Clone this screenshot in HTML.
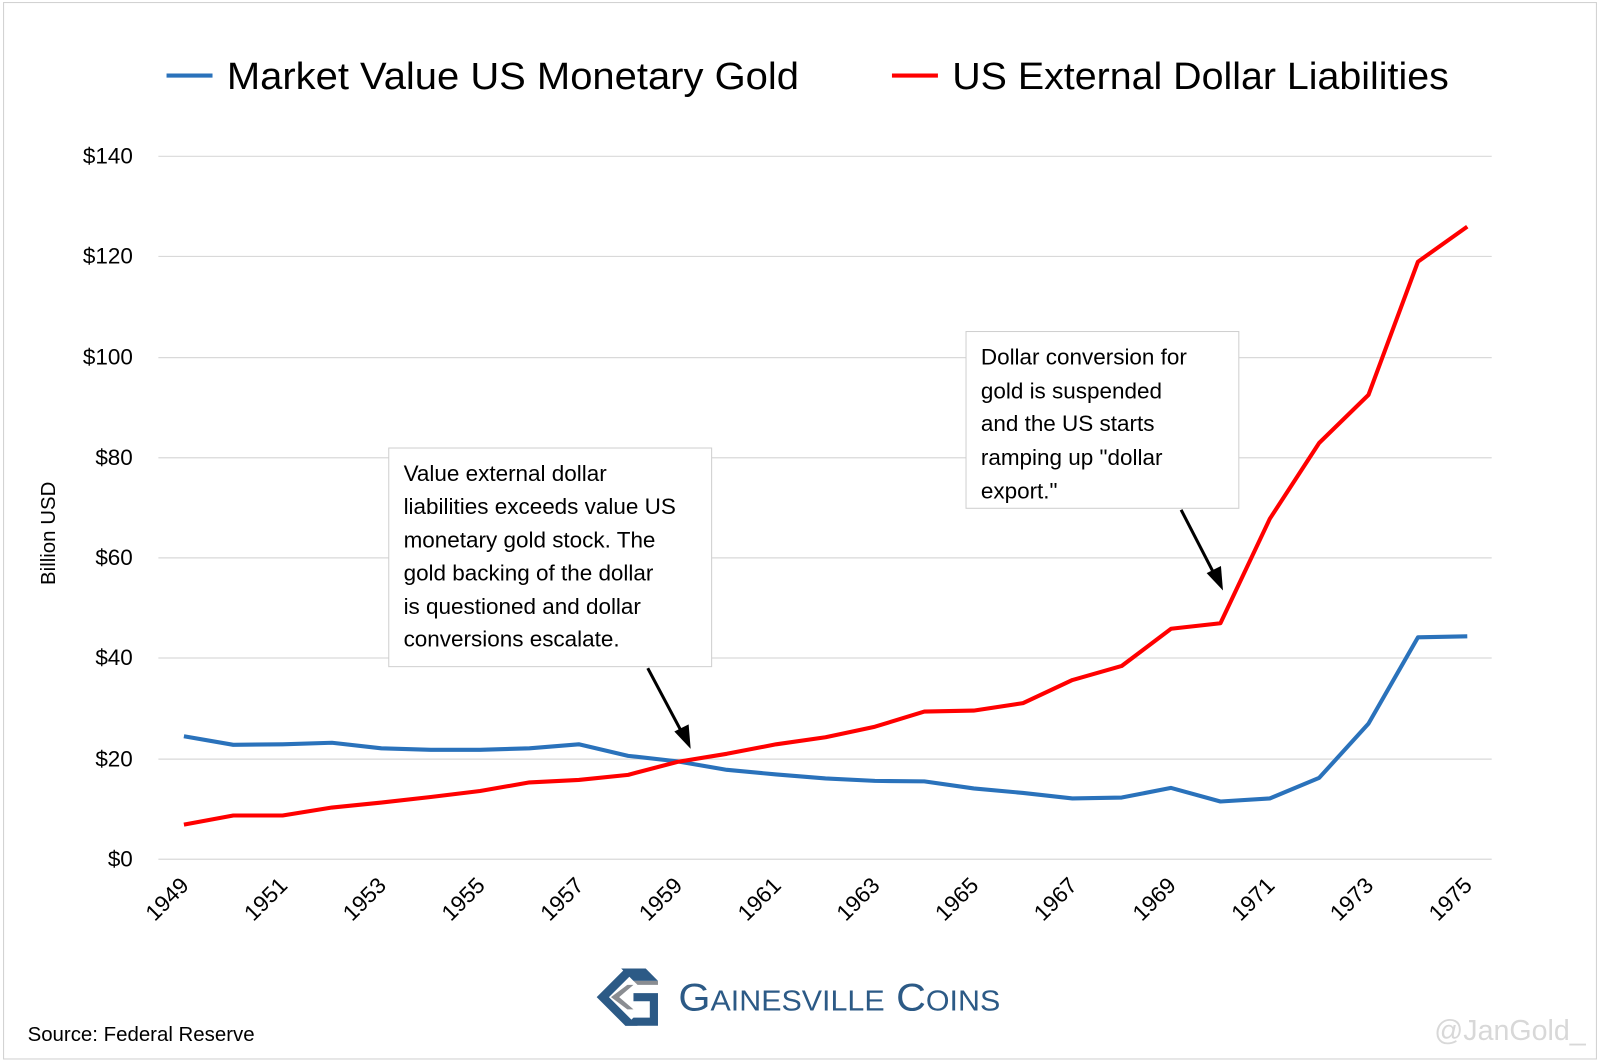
<!DOCTYPE html>
<html><head><meta charset="utf-8"><style>
html,body{margin:0;padding:0;background:#fff}
svg{display:block}
text{font-family:"Liberation Sans",sans-serif}
</style></head><body>
<svg id="s" width="1600" height="1060" viewBox="0 0 1566 1037.5" preserveAspectRatio="none" xmlns="http://www.w3.org/2000/svg">
<rect x="3.5" y="2.5" width="1559" height="1034" fill="#fff" stroke="#d0d0d0"/>
<g stroke="#d9d9d9" stroke-width="1.2">
<line x1="155" x2="1460" y1="153" y2="153"/><line x1="155" x2="1460" y1="251" y2="251"/>
<line x1="155" x2="1460" y1="350" y2="350"/><line x1="155" x2="1460" y1="448" y2="448"/>
<line x1="155" x2="1460" y1="546" y2="546"/><line x1="155" x2="1460" y1="644" y2="644"/>
<line x1="155" x2="1460" y1="743" y2="743"/><line x1="155" x2="1460" y1="841" y2="841"/>
</g>
<g font-size="22" fill="#000" text-anchor="end">
<text x="130" y="160">$140</text><text x="130" y="258">$120</text><text x="130" y="357">$100</text>
<text x="130" y="455">$80</text><text x="130" y="553">$60</text><text x="130" y="651">$40</text>
<text x="130" y="750">$20</text><text x="130" y="848">$0</text>
</g>
<text transform="translate(54,522) rotate(-90)" font-size="20" text-anchor="middle">Billion USD</text>
<g id="xl" font-size="22" text-anchor="end"></g>
<line x1="163" x2="208" y1="74" y2="74" stroke="#2a72bb" stroke-width="4"/>
<text x="222" y="87" font-size="37" textLength="560" lengthAdjust="spacingAndGlyphs">Market Value US Monetary Gold</text>
<line x1="873" x2="918" y1="74" y2="74" stroke="#ff0000" stroke-width="4"/>
<text x="932" y="87" font-size="37" textLength="486" lengthAdjust="spacingAndGlyphs">US External Dollar Liabilities</text>
<polyline id="blue" fill="none" stroke="#2a72bb" stroke-width="4" stroke-linejoin="round"/>
<polyline id="red" fill="none" stroke="#ff0000" stroke-width="4" stroke-linejoin="round"/>
<rect x="380.5" y="438.5" width="316" height="214" fill="#fff" stroke="#cfcfcf"/>
<g font-size="22">
<text x="395" y="471">Value external dollar</text>
<text x="395" y="503">liabilities exceeds value US</text>
<text x="395" y="536">monetary gold stock. The</text>
<text x="395" y="568">gold backing of the dollar</text>
<text x="395" y="601">is questioned and dollar</text>
<text x="395" y="633">conversions escalate.</text>
</g>
<rect x="945.5" y="324.5" width="267" height="173" fill="#fff" stroke="#cfcfcf"/>
<g font-size="22">
<text x="960" y="357">Dollar conversion for</text>
<text x="960" y="390">gold is suspended</text>
<text x="960" y="422">and the US starts</text>
<text x="960" y="455">ramping up "dollar</text>
<text x="960" y="488">export."</text>
</g>
<line x1="634" y1="654" x2="668" y2="718" stroke="#000" stroke-width="3"/>
<polygon points="676,733 660,716 674,709" fill="#000"/>
<line x1="1156" y1="499" x2="1189" y2="563" stroke="#000" stroke-width="3"/>
<polygon points="1197,578 1181,561 1195,554" fill="#000"/>
<g transform="translate(584,948)">
<polygon points="0,28 28,0 40,0 12,28 40,56 28,56" fill="#2c5a86"/>
<polygon points="24,0 48,0 60,12 36,12" fill="#2c5a86"/>
<polygon points="36,12 60,12 60,16 40,16" fill="#8a8d92"/>
<polygon points="14,28 30,16 36,16 22,28 36,40 30,40" fill="#8a8d92"/>
<polygon points="28,56 60,56 60,24 36,24 36,32 52,32 52,48 36,48" fill="#2c5a86"/>
</g>
<text x="664" y="989" font-family="Liberation Serif,serif" font-size="38" fill="#2c5a86" textLength="315" lengthAdjust="spacingAndGlyphs">G<tspan font-size="28">AINESVILLE</tspan> C<tspan font-size="28">OINS</tspan></text>
<text x="27" y="1019" font-size="20">Source: Federal Reserve</text>
<text x="1552" y="1018" font-size="28" fill="#d8d8d8" text-anchor="end">@JanGold_</text>
</svg>
<script>
var b=[24.5,22.8,22.9,23.2,22.1,21.8,21.8,22.1,22.9,20.6,19.5,17.8,16.9,16.1,15.6,15.5,14.1,13.2,12.1,12.3,14.2,11.5,12.1,16.2,27,44.2,44.4];
var r=[6.9,8.7,8.7,10.3,11.3,12.4,13.6,15.3,15.8,16.8,19.4,21.0,22.9,24.3,26.4,29.4,29.6,31.1,35.7,38.5,45.9,47.0,67.8,82.9,92.5,119,126];
function pts(a){return a.map(function(v,i){return (180+i*48.31).toFixed(1)+","+(841-v*4.914).toFixed(1)}).join(" ")}
document.getElementById("blue").setAttribute("points",pts(b));
document.getElementById("red").setAttribute("points",pts(r));
var g=document.getElementById("xl"),h="";
for(var y=1949;y<=1975;y+=2){var x=180+(y-1949)*48.31+6;h+='<text transform="translate('+x+',868) rotate(-45)">'+y+'</text>';}
g.innerHTML=h;
</script>
</body></html>
